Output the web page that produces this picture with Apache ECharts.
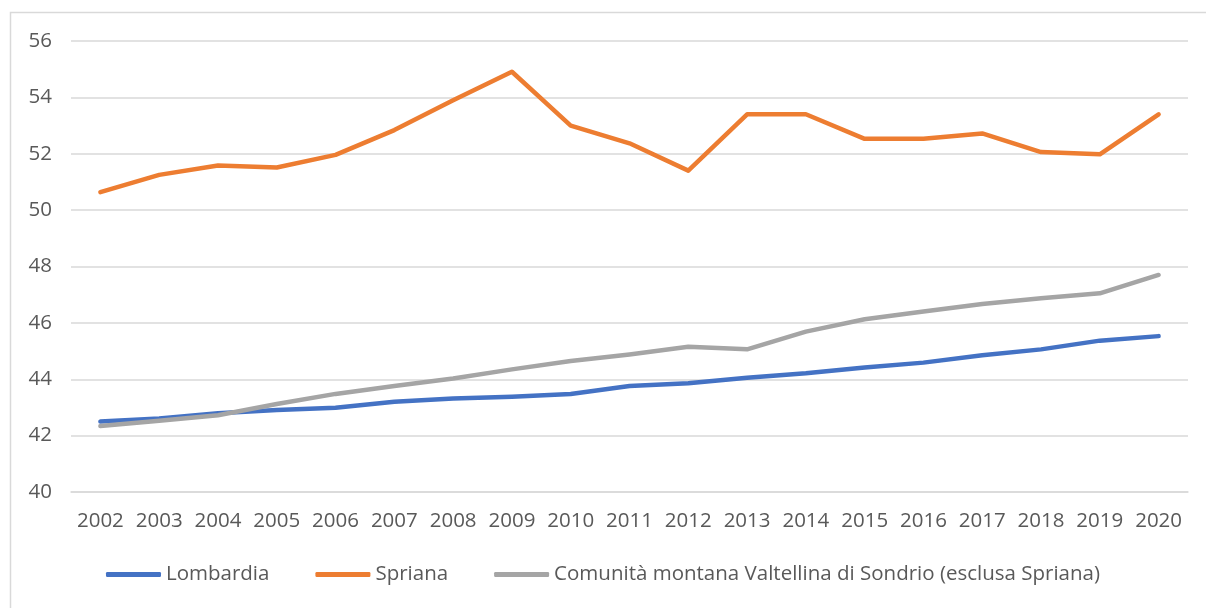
<!DOCTYPE html>
<html>
<head>
<meta charset="utf-8">
<script src="https://cdn.jsdelivr.net/npm/echarts@6/dist/echarts.min.js"></script>
<style>
  html, body { margin: 0; padding: 0; background: #fff; }
  #chart { width: 1206px; height: 608px; }
</style>
</head>
<body>
<div id="chart"></div>
<script>
var years = ['2002', '2003', '2004', '2005', '2006', '2007', '2008', '2009', '2010', '2011',
             '2012', '2013', '2014', '2015', '2016', '2017', '2018', '2019', '2020'];

var lombardia = [42.5, 42.61, 42.79, 42.91, 42.99, 43.2, 43.32, 43.38, 43.48, 43.76,
                 43.86, 44.05, 44.21, 44.42, 44.59, 44.85, 45.06, 45.37, 45.53];

var spriana = [50.64, 51.25, 51.58, 51.51, 51.96, 52.84, 53.9, 54.91, 53.0, 52.37,
               51.4, 53.4, 53.4, 52.53, 52.53, 52.72, 52.06, 51.98, 53.4];

var comunita = [42.34, 42.53, 42.72, 43.12, 43.48, 43.76, 44.03, 44.35, 44.65, 44.88,
                45.15, 45.06, 45.69, 46.13, 46.4, 46.67, 46.87, 47.05, 47.7];

var myChart = echarts.init(document.getElementById('chart'));

function lineSeries(name, color, values) {
    return {
        name: name,
        type: 'line',
        data: values,
        symbol: 'none',
        lineStyle: { color: color, width: 4.5, cap: 'round', join: 'round' },
        itemStyle: { color: color }
    };
}

option = {
    backgroundColor: '#fff',
    animation: false,
    color: ['#4472C4', '#ED7D31', '#A5A5A5'],
    textStyle: { fontFamily: 'Open Sans' },
    graphic: [{
        type: 'rect',
        shape: { x: 10.5, y: 12.5, width: 1220, height: 620 },
        style: { fill: 'none', stroke: '#d9d9d9', lineWidth: 1.5 },
        silent: true
    }],
    grid: { left: 71, right: 18, top: 41, bottom: 116 },
    legend: {
        bottom: 18,
        left: 'center',
        icon: 'roundRect',
        itemWidth: 55,
        itemHeight: 5,
        itemGap: 46,
        textStyle: { color: '#595959', fontSize: 20.5, fontFamily: 'Open Sans' },
        data: ['Lombardia', 'Spriana', 'Comunità montana Valtellina di Sondrio (esclusa Spriana)']
    },
    xAxis: {
        type: 'category',
        data: years,
        boundaryGap: true,
        axisLine: { show: true, lineStyle: { color: '#d9d9d9', width: 1.5 } },
        axisTick: { show: false },
        axisLabel: { color: '#595959', fontSize: 20.5, margin: 19, interval: 0 }
    },
    yAxis: {
        type: 'value',
        min: 40,
        max: 56,
        interval: 2,
        axisLine: { show: false },
        axisTick: { show: false },
        axisLabel: { color: '#595959', fontSize: 20.5, margin: 19 },
        splitLine: { lineStyle: { color: '#d9d9d9', width: 1.5 } }
    },
    series: [
        lineSeries('Lombardia', '#4472C4', lombardia),
        lineSeries('Spriana', '#ED7D31', spriana),
        lineSeries('Comunità montana Valtellina di Sondrio (esclusa Spriana)', '#A5A5A5', comunita)
    ]
};

myChart.setOption(option);
</script>
</body>
</html>
